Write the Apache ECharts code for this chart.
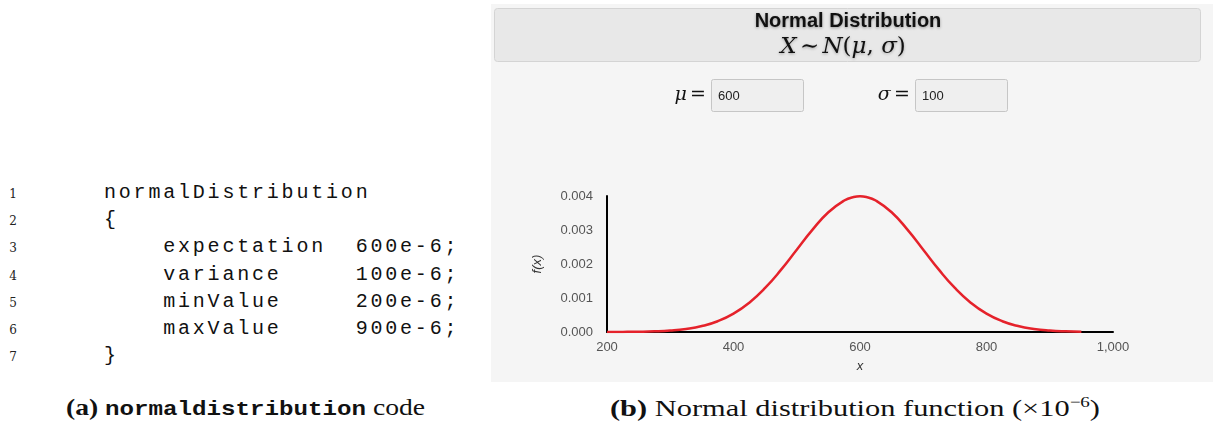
<!DOCTYPE html>
<html>
<head>
<meta charset="utf-8">
<script src="https://cdn.jsdelivr.net/npm/echarts@6/dist/echarts.min.js"></script>
<style>
  html, body { margin: 0; padding: 0; background: #ffffff; width: 1213px; height: 430px; overflow: hidden; }
  #code { position: absolute; left: 0; top: 181px; }
  .ln { position: absolute; left: 6px; width: 14px; text-align: center; font-family: "DejaVu Serif", "Liberation Serif", serif; font-size: 12px; color: #222; }
  .cl { position: absolute; font-family: "Liberation Mono", "DejaVu Sans Mono", monospace; font-size: 20px; letter-spacing: 2.8px; color: #111; white-space: pre; }
  .cap { position: absolute; top: 394px; font-family: "Liberation Serif", "DejaVu Serif", serif; font-size: 24px; color: #111; white-space: pre; display: inline-block; transform-origin: 0 50%; }
  .cap b { font-weight: bold; }
  .cap .tt { font-family: "Liberation Mono", monospace; font-weight: bold; font-size: 21px; }
  #chart { position: absolute; left: 491px; top: 4px; width: 722px; height: 378px; }
</style>
</head>
<body>
<div id="code"></div>
<div class="cap" id="capA" style="left:66px;"><b>(a)</b> <span class="tt">normaldistribution</span> code</div>
<div class="cap" id="capB" style="left:610px;"><b>(b)</b> Normal distribution function (×10<sup style="font-size:15px;">−6</sup>)</div>
<div id="chart"></div>
<script>
// ---- data ----
const codeLines = [
  "normalDistribution",
  "{",
  "    expectation  600e-6;",
  "    variance     100e-6;",
  "    minValue     200e-6;",
  "    maxValue     900e-6;",
  "}"
];
const muValue = "600";
const sigmaValue = "100";
const xValues = [200, 225, 250, 275, 300, 325, 350, 375, 400, 425, 450, 475, 500, 525, 550, 575, 590, 600,
                 610, 625, 650, 675, 700, 725, 750, 775, 800, 825, 850, 875, 900, 925, 950];
const fValues = [0.0000013, 0.0000035, 0.0000087, 0.0000203, 0.0000443, 0.000091, 0.000175, 0.000317,
                 0.000540, 0.000863, 0.001295, 0.001826, 0.002420, 0.003011, 0.003521, 0.003867, 0.003969, 0.003989,
                 0.003969, 0.003867, 0.003521, 0.003011, 0.002420, 0.001826, 0.001295, 0.000863, 0.000540, 0.000317,
                 0.000175, 0.000091, 0.0000443, 0.0000203, 0.0000087];
const xTicks = [200, 400, 600, 800, 1000];
const yTicks = ["0.000", "0.001", "0.002", "0.003", "0.004"];

// ---- code listing (HTML) ----
const codeEl = document.getElementById('code');
codeLines.forEach((line, i) => {
  const top = i * 27.2;
  const n = document.createElement('div');
  n.className = 'ln'; n.style.top = (top + 6) + 'px'; n.textContent = String(i + 1);
  codeEl.appendChild(n);
  const c = document.createElement('div');
  c.className = 'cl'; c.style.left = '104px'; c.style.top = top + 'px'; c.textContent = line;
  codeEl.appendChild(c);
});
// fit caption widths to the reference
[['capA', 359], ['capB', 490]].forEach(([id, w]) => {
  const el = document.getElementById(id);
  const cur = el.getBoundingClientRect().width;
  el.style.transform = 'scaleX(' + (w / cur) + ')';
});

// ---- chart ----
const chart = echarts.init(document.getElementById('chart'));
const seriesData = xValues.map((x, i) => [x, fValues[i]]);
const serif = '"DejaVu Serif", "Liberation Serif", serif';
chart.setOption({
  backgroundColor: '#f5f5f5',
  animation: false,
  graphic: [
    { type: 'rect', shape: { x: 3.5, y: 4.5, width: 706, height: 53, r: 3 },
      style: { fill: '#e8e8e8', stroke: '#d4d4d4', lineWidth: 1 } },
    { type: 'text', x: 357, y: 17,
      style: { text: 'Normal Distribution', fill: '#111', font: 'bold 20px "Liberation Sans", Arial, sans-serif',
               align: 'center', verticalAlign: 'middle', textShadowBlur: 3, textShadowColor: 'rgba(0,0,0,0.35)', textShadowOffsetY: 1 } },
    { type: 'text', x: 352, y: 43,
      style: { text: '{i|X} {r|∼} {i|N}{r|(}{i|μ}{r|, }{i|σ}{r|)}', align: 'center', verticalAlign: 'middle',
               textShadowBlur: 3, textShadowColor: 'rgba(0,0,0,0.3)', textShadowOffsetY: 1,
               rich: { i: { fontFamily: serif, fontStyle: 'italic', fontSize: 23, fill: '#111' },
                       r: { fontFamily: serif, fontSize: 23, fill: '#111' } } } },
    { type: 'text', x: 215, y: 91,
      style: { text: '{i|μ} {r|=}', align: 'right', verticalAlign: 'middle',
               rich: { i: { fontFamily: serif, fontStyle: 'italic', fontSize: 19, fill: '#111' },
                       r: { fontFamily: serif, fontSize: 19, fill: '#111' } } } },
    { type: 'rect', shape: { x: 220.5, y: 75.5, width: 92, height: 32, r: 2 },
      style: { fill: '#efefef', stroke: '#c6c6c6', lineWidth: 1 } },
    { type: 'text', x: 227, y: 92,
      style: { text: muValue, fill: '#222', font: '13px "Liberation Sans", Arial, sans-serif', verticalAlign: 'middle' } },
    { type: 'text', x: 419, y: 91,
      style: { text: '{i|σ} {r|=}', align: 'right', verticalAlign: 'middle',
               rich: { i: { fontFamily: serif, fontStyle: 'italic', fontSize: 19, fill: '#111' },
                       r: { fontFamily: serif, fontSize: 19, fill: '#111' } } } },
    { type: 'rect', shape: { x: 424.5, y: 75.5, width: 92, height: 32, r: 2 },
      style: { fill: '#efefef', stroke: '#c6c6c6', lineWidth: 1 } },
    { type: 'text', x: 431, y: 92,
      style: { text: sigmaValue, fill: '#222', font: '13px "Liberation Sans", Arial, sans-serif', verticalAlign: 'middle' } }
  ],
  grid: { left: 116, top: 192, width: 506, height: 136, containLabel: false },
  xAxis: {
    type: 'value', min: 200, max: 1000, interval: 200,
    name: 'x', nameLocation: 'middle', nameGap: 28,
    nameTextStyle: { fontStyle: 'italic', fontSize: 13, color: '#333', fontFamily: '"Liberation Sans", Arial, sans-serif' },
    axisLine: { show: true, lineStyle: { color: '#000', width: 2 } },
    axisTick: { show: false },
    splitLine: { show: false },
    axisLabel: { color: '#555', fontSize: 13, margin: 9, fontFamily: '"Liberation Sans", Arial, sans-serif',
                 formatter: v => xTicks.includes(v) ? v.toLocaleString('en-US') : '' }
  },
  yAxis: {
    type: 'value', min: 0, max: 0.004, interval: 0.001,
    name: 'f(x)', nameLocation: 'middle', nameGap: 63, nameRotate: 90,
    nameTextStyle: { fontStyle: 'italic', fontSize: 13, color: '#333', fontFamily: '"Liberation Sans", Arial, sans-serif' },
    axisLine: { show: true, lineStyle: { color: '#000', width: 2 } },
    axisTick: { show: false },
    splitLine: { show: false },
    axisLabel: { color: '#555', fontSize: 13, margin: 14, fontFamily: '"Liberation Sans", Arial, sans-serif',
                 formatter: (v) => yTicks[Math.round(v * 1000)] }
  },
  series: [{
    type: 'line', data: seriesData, smooth: true, showSymbol: false,
    lineStyle: { color: '#e5222b', width: 2.5 }
  }]
});
</script>
</body>
</html>
